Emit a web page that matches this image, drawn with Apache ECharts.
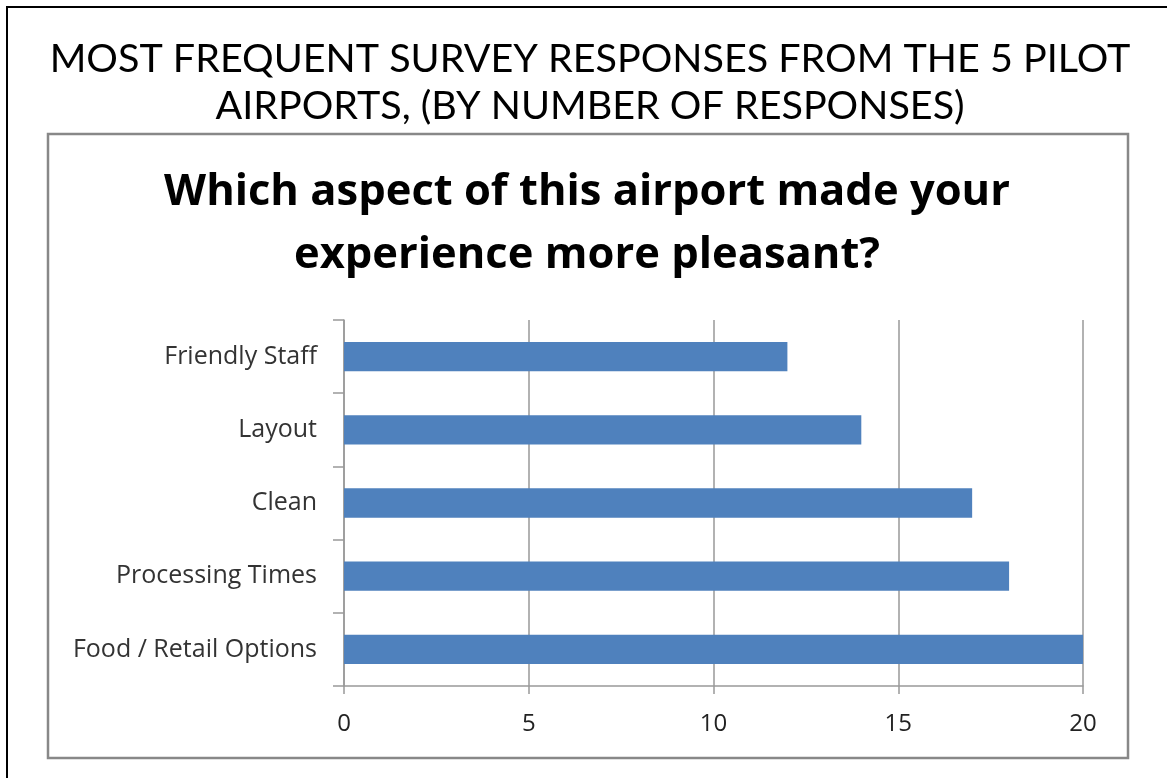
<!DOCTYPE html>
<html><head><meta charset="utf-8">
<script src="https://cdn.jsdelivr.net/npm/echarts@6/dist/echarts.min.js"></script>
<style>html,body{margin:0;padding:0;background:#fff}#c{width:1167px;height:778px}</style>
</head><body><div id="c"></div>
<script>
const categories = ['Food / Retail Options', 'Processing Times', 'Clean', 'Layout', 'Friendly Staff'];
const responses = [20, 18, 17, 14, 12];
const xTicks = [0, 5, 10, 15, 20];
const mainTitle = 'MOST FREQUENT SURVEY RESPONSES FROM THE 5 PILOT\nAIRPORTS, (BY NUMBER OF RESPONSES)';
const chartTitle = 'Which aspect of this airport made your\nexperience more pleasant?';

const chart = echarts.init(document.getElementById('c'), null, {renderer: 'canvas'});
chart.setOption({
  animation: false,
  backgroundColor: '#fff',
  graphic: [
    {type: 'rect', shape: {x: 7, y: 7, width: 1200, height: 800}, style: {fill: 'none', stroke: '#000', lineWidth: 2}},
    {type: 'rect', shape: {x: 48, y: 134, width: 1080, height: 624}, style: {fill: '#fff', stroke: '#888', lineWidth: 2.5}, z: -1},
    {type: 'text', x: 590, y: 36, style: {text: mainTitle, align: 'center', verticalAlign: 'top',
      font: 'normal 39.5px Lato', fill: '#000', lineHeight: 47}},
    {type: 'text', x: 587, y: 161, style: {text: chartTitle, align: 'center', verticalAlign: 'top',
      font: 'bold 43.5px "Open Sans"', fill: '#000', lineHeight: 63}}
  ],
  grid: {left: 344, right: 84, top: 320, bottom: 92, containLabel: false},
  xAxis: {
    type: 'value', min: 0, max: 20, interval: 5,
    axisLine: {show: true, lineStyle: {color: '#999', width: 1.5}},
    axisTick: {show: true, length: 8, lineStyle: {color: '#999', width: 1.5}},
    splitLine: {show: true, lineStyle: {color: '#999', width: 1.5}},
    axisLabel: {fontFamily: 'Open Sans', fontSize: 24, color: '#222', margin: 26,
      formatter: v => xTicks.includes(v) ? String(v) : ''}
  },
  yAxis: {
    type: 'category', data: categories,
    axisLine: {show: true, lineStyle: {color: '#999', width: 1.5}},
    axisTick: {show: true, length: 11, lineStyle: {color: '#999', width: 1.5}},
    axisLabel: {fontFamily: 'Open Sans', fontSize: 25, color: '#333', margin: 27}
  },
  series: [{
    type: 'bar', data: responses, barWidth: '40%',
    itemStyle: {color: '#4F81BD'}
  }]
});
</script></body></html>
